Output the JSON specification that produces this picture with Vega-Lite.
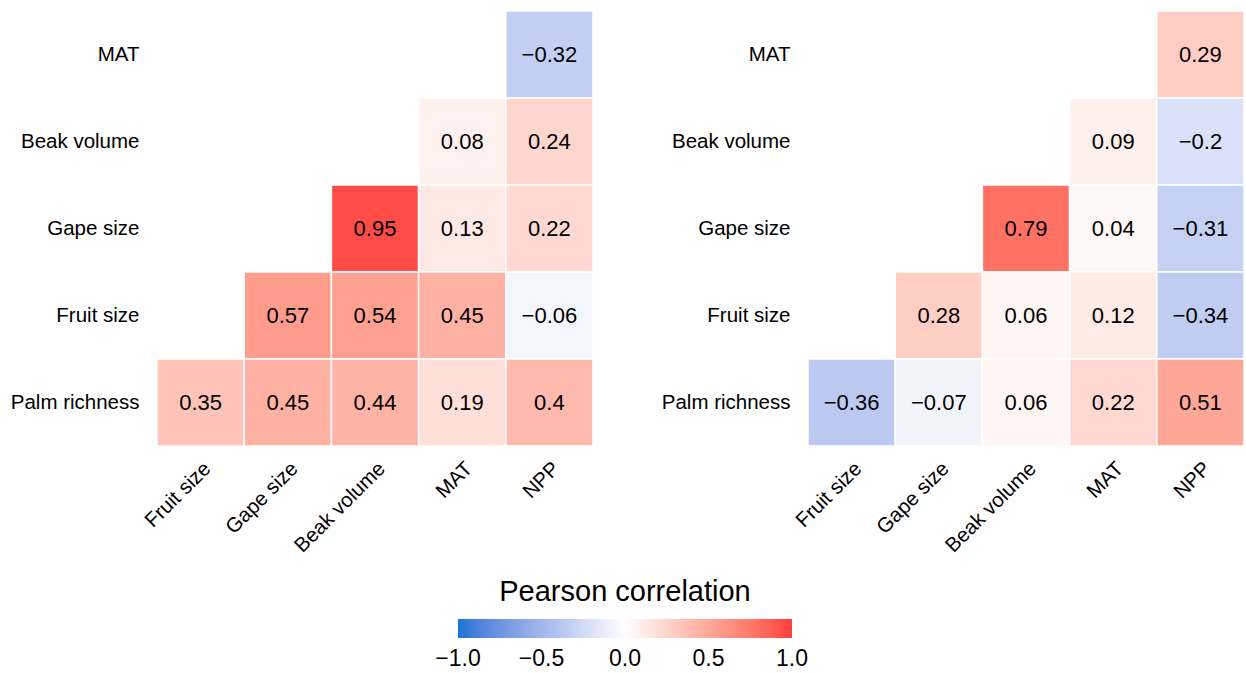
{
  "$schema": "https://vega.github.io/schema/vega-lite/v6.json",
  "padding": {"left": 10, "top": 10, "right": 0, "bottom": 0},
  "autosize": {"type": "pad"},
  "background": "white",
  "datasets": {
    "a": [
      {"row": "MAT", "col": "NPP", "r": -0.32},
      {"row": "Beak volume", "col": "MAT", "r": 0.08},
      {"row": "Beak volume", "col": "NPP", "r": 0.24},
      {"row": "Gape size", "col": "Beak volume", "r": 0.95},
      {"row": "Gape size", "col": "MAT", "r": 0.13},
      {"row": "Gape size", "col": "NPP", "r": 0.22},
      {"row": "Fruit size", "col": "Gape size", "r": 0.57},
      {"row": "Fruit size", "col": "Beak volume", "r": 0.54},
      {"row": "Fruit size", "col": "MAT", "r": 0.45},
      {"row": "Fruit size", "col": "NPP", "r": -0.06},
      {"row": "Palm richness", "col": "Fruit size", "r": 0.35},
      {"row": "Palm richness", "col": "Gape size", "r": 0.45},
      {"row": "Palm richness", "col": "Beak volume", "r": 0.44},
      {"row": "Palm richness", "col": "MAT", "r": 0.19},
      {"row": "Palm richness", "col": "NPP", "r": 0.4}
    ],
    "b": [
      {"row": "MAT", "col": "NPP", "r": 0.29},
      {"row": "Beak volume", "col": "MAT", "r": 0.09},
      {"row": "Beak volume", "col": "NPP", "r": -0.2},
      {"row": "Gape size", "col": "Beak volume", "r": 0.79},
      {"row": "Gape size", "col": "MAT", "r": 0.04},
      {"row": "Gape size", "col": "NPP", "r": -0.31},
      {"row": "Fruit size", "col": "Gape size", "r": 0.28},
      {"row": "Fruit size", "col": "Beak volume", "r": 0.06},
      {"row": "Fruit size", "col": "MAT", "r": 0.12},
      {"row": "Fruit size", "col": "NPP", "r": -0.34},
      {"row": "Palm richness", "col": "Fruit size", "r": -0.36},
      {"row": "Palm richness", "col": "Gape size", "r": -0.07},
      {"row": "Palm richness", "col": "Beak volume", "r": 0.06},
      {"row": "Palm richness", "col": "MAT", "r": 0.22},
      {"row": "Palm richness", "col": "NPP", "r": 0.51}
    ]
  },
  "config": {
    "font": "Liberation Sans",
    "view": {"stroke": null},
    "axis": {"ticks": false, "domain": false, "grid": false, "labelFontSize": 20.5, "labelColor": "#000000", "labelPadding": 18, "title": null, "labelLimit": 300},
    "concat": {"spacing": 67}
  },
  "resolve": {"scale": {"color": "shared"}},
  "hconcat": [
    {
      "data": {"name": "a"},
      "width": 436,
      "height": 435,
      "encoding": {
        "x": {"field": "col", "type": "nominal", "scale": {"domain": ["Fruit size", "Gape size", "Beak volume", "MAT", "NPP"], "paddingInner": 0, "paddingOuter": 0}, "axis": {"labelAngle": -45, "labelPadding": 12}},
        "y": {"field": "row", "type": "nominal", "scale": {"domain": ["MAT", "Beak volume", "Gape size", "Fruit size", "Palm richness"], "paddingInner": 0, "paddingOuter": 0}}
      },
      "layer": [
        {
          "mark": {"type": "rect", "stroke": "white", "strokeWidth": 1.5},
          "encoding": {
            "color": {"field": "r", "type": "quantitative", "title": "Pearson correlation",
              "scale": {"domain": [-1, 0, 1], "range": ["#1a73d6", "#ffffff", "#ff3d3d"], "interpolate": "lab"},
              "legend": {"orient": "none", "legendX": 301, "legendY": 567, "direction": "horizontal", "gradientLength": 334, "gradientThickness": 19, "titleFontSize": 29, "titleFontWeight": "normal", "titleColor": "#000", "titleAnchor": "middle", "titlePadding": 12, "titleLimit": 1000, "labelFontSize": 23, "labelColor": "#000", "labelOffset": 10, "labelOverlap": false, "values": [-1, -0.5, 0, 0.5, 1], "format": ".1f",
                "encode": {"labels": {"update": {"align": {"value": "center"}}}}}
            }
          }
        },
        {
          "mark": {"type": "text", "fontSize": 22, "color": "#000"},
          "encoding": {"text": {"field": "r", "type": "quantitative", "format": ".2~f"}}
        }
      ]
    },
    {
      "data": {"name": "b"},
      "width": 436,
      "height": 435,
      "encoding": {
        "x": {"field": "col", "type": "nominal", "scale": {"domain": ["Fruit size", "Gape size", "Beak volume", "MAT", "NPP"], "paddingInner": 0, "paddingOuter": 0}, "axis": {"labelAngle": -45, "labelPadding": 12}},
        "y": {"field": "row", "type": "nominal", "scale": {"domain": ["MAT", "Beak volume", "Gape size", "Fruit size", "Palm richness"], "paddingInner": 0, "paddingOuter": 0}}
      },
      "layer": [
        {
          "mark": {"type": "rect", "stroke": "white", "strokeWidth": 1.5},
          "encoding": {
            "color": {"field": "r", "type": "quantitative", "title": "Pearson correlation",
              "scale": {"domain": [-1, 0, 1], "range": ["#1a73d6", "#ffffff", "#ff3d3d"], "interpolate": "lab"}}
          }
        },
        {
          "mark": {"type": "text", "fontSize": 22, "color": "#000"},
          "encoding": {"text": {"field": "r", "type": "quantitative", "format": ".2~f"}}
        }
      ]
    }
  ]
}
